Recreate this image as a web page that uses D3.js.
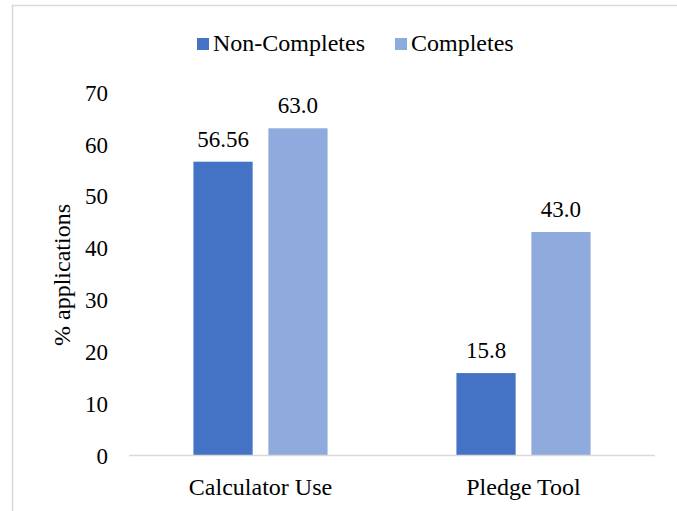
<!DOCTYPE html>
<html><head><meta charset="utf-8">
<script src="https://cdn.jsdelivr.net/npm/d3@7"></script>
<style>body{margin:0;background:#fff}svg{display:block}</style>
</head><body><svg id="c" width="677" height="511"></svg>
<script>
const categories = ["Calculator Use", "Pledge Tool"];
const seriesNames = ["Non-Completes", "Completes"];
const nonCompletes = [56.56, 15.8];
const completes = [63.0, 43.0];
const valueLabels = [["56.56", "63.0"], ["15.8", "43.0"]];
const yTicks = [0, 10, 20, 30, 40, 50, 60, 70];
const colors = ["#4472C4", "#8FAADC"];
const FONT = "'Liberation Serif', 'Times New Roman', serif";

const svg = d3.select("#c");
svg.append("rect").attr("x", 12.5).attr("y", 5.5).attr("width", 700).attr("height", 600)
  .attr("fill", "#fff").attr("stroke", "#d9d9d9").attr("stroke-width", 1.5);

const L = 129, R = 655, B = 455, T = 92;
const x0 = d3.scaleBand().domain(categories).range([L, R]).paddingInner(0.49).paddingOuter(0.245);
const x1 = d3.scaleBand().domain(seriesNames).range([0, x0.bandwidth()]).paddingInner(0.21);
const y = d3.scaleLinear().domain([0, 70]).range([B, T]);

const data = categories.map((c, i) => ({cat: c, vals: [nonCompletes[i], completes[i]], labels: valueLabels[i]}));

function styleText(sel, size) { sel.style("font-family", FONT).style("font-size", (size || 24) + "px").style("fill", "#000"); }

const yAxis = d3.axisLeft(y).tickValues(yTicks).tickSize(0).tickPadding(0);
const gy = svg.append("g").attr("transform", `translate(108,0)`).call(yAxis);
gy.attr("font-family", null).attr("font-size", null);
gy.select(".domain").remove();
gy.selectAll("text").call(styleText, 23).attr("dy", "0.36em");

const g = svg.selectAll(".grp").data(data).enter().append("g")
  .attr("transform", d => `translate(${x0(d.cat)},0)`);
g.selectAll("rect").data(d => d.vals.map((v, j) => ({v, j, s: seriesNames[j]}))).enter().append("rect")
  .attr("x", d => x1(d.s)).attr("width", x1.bandwidth())
  .attr("y", d => y(d.v)).attr("height", d => B - y(d.v))
  .attr("fill", d => colors[d.j]);
g.selectAll("text.v").data(d => d.vals.map((v, j) => ({v, j, s: seriesNames[j], t: d.labels[j]}))).enter().append("text")
  .attr("class", "v").attr("x", d => x1(d.s) + x1.bandwidth() / 2).attr("y", d => y(d.v) - 15)
  .attr("text-anchor", "middle").call(styleText, 23).text(d => d.t);

const xAxis = d3.axisBottom(x0).tickSize(0).tickPadding(0);
const gx = svg.append("g").attr("transform", `translate(0,${B})`).call(xAxis);
gx.attr("font-family", null).attr("font-size", null);
gx.select(".domain").attr("stroke", "#d9d9d9").attr("stroke-width", 1.5).attr("d", `M${L},0.5H${R}`);
gx.selectAll("text").call(styleText, 24).attr("y", 40).attr("dy", 0);

svg.append("text").attr("transform", "translate(70,275) rotate(-90)").attr("text-anchor", "middle")
  .call(styleText, 24).text("% applications");

const leg = svg.append("g");
const legX = [197, 395];
seriesNames.forEach((s, i) => {
  leg.append("rect").attr("x", legX[i]).attr("y", 38).attr("width", 12).attr("height", 12).attr("fill", colors[i]);
  leg.append("text").attr("x", legX[i] + 16).attr("y", 51).call(styleText, 24).text(s);
});
</script></body></html>
